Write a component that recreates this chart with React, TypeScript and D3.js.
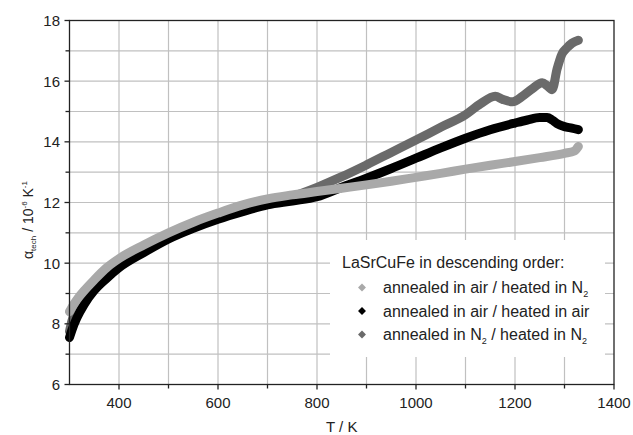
// ExpansionChart.tsx

import React, { useEffect, useRef } from "react";
import * as d3 from "d3";

// temperature (K) and alpha_tech (10^-6 K^-1)
const airN2T = [300, 305, 315, 330, 350, 375, 400, 450, 500, 550, 600, 650, 700, 750, 800, 850, 900, 950, 1000, 1050, 1100, 1150, 1200, 1250, 1300, 1320, 1328];
const airN2 = [8.4, 8.55, 8.8, 9.1, 9.45, 9.85, 10.15, 10.6, 11.0, 11.35, 11.65, 11.92, 12.12, 12.25, 12.36, 12.47, 12.58, 12.7, 12.83, 12.96, 13.1, 13.23, 13.35, 13.48, 13.62, 13.7, 13.85];

const airAirT = [300, 305, 315, 330, 350, 375, 400, 450, 500, 550, 600, 650, 700, 750, 800, 850, 900, 950, 1000, 1050, 1100, 1150, 1200, 1225, 1250, 1265, 1275, 1285, 1300, 1315, 1328];
const airAir = [7.55, 7.8, 8.2, 8.65, 9.1, 9.5, 9.85, 10.35, 10.8, 11.15, 11.45, 11.7, 11.92, 12.05, 12.19, 12.5, 12.8, 13.12, 13.46, 13.8, 14.12, 14.4, 14.62, 14.72, 14.8, 14.8, 14.72, 14.6, 14.5, 14.45, 14.4];

const n2N2T = [300, 305, 315, 330, 350, 375, 400, 450, 500, 550, 600, 650, 700, 750, 800, 850, 900, 950, 1000, 1050, 1100, 1130, 1160, 1175, 1195, 1215, 1235, 1255, 1265, 1275, 1285, 1295, 1305, 1315, 1328];
const n2N2 = [7.75, 8.1, 8.5, 8.9, 9.3, 9.65, 9.95, 10.45, 10.9, 11.25, 11.55, 11.8, 12.0, 12.2, 12.5, 12.85, 13.24, 13.65, 14.06, 14.48, 14.89, 15.25, 15.5, 15.4, 15.32, 15.5, 15.75, 15.95, 15.85, 15.72, 16.4, 16.9, 17.1, 17.25, 17.35];

const xTicks = [400, 600, 800, 1000, 1200, 1400];
const xGrid = [400, 500, 600, 700, 800, 900, 1000, 1100, 1200, 1300];
const yTicks = [6, 8, 10, 12, 14, 16, 18];
const yGrid = [7, 8, 9, 10, 11, 12, 13, 14, 15, 16, 17];

const legendTitle = "LaSrCuFe in descending order:";

const App = () => {
  const chartRef = useRef<SVGSVGElement>(null);

  useEffect(() => {
    const svg = d3.select(chartRef.current);
    svg.selectAll("*").remove();

    const left = 69.5;
    const right = 614;
    const top = 20.5;
    const bottom = 384.5;
    const font = "'Liberation Sans', Arial, sans-serif";

    const x = d3.scaleLinear().domain([300, 1400]).range([left, right]);
    const y = d3.scaleLinear().domain([6, 18]).range([bottom, top]);

    // grid
    svg
      .selectAll(".vg")
      .data(xGrid)
      .enter()
      .append("line")
      .attr("x1", (d) => x(d))
      .attr("x2", (d) => x(d))
      .attr("y1", top)
      .attr("y2", bottom)
      .attr("stroke", "#c0c0c0")
      .attr("stroke-width", 1.2);

    svg
      .selectAll(".hg")
      .data(yGrid)
      .enter()
      .append("line")
      .attr("x1", left)
      .attr("x2", right)
      .attr("y1", (d) => y(d))
      .attr("y2", (d) => y(d))
      .attr("stroke", "#c0c0c0")
      .attr("stroke-width", 1.2);

    // legend box covers the grid
    svg
      .append("rect")
      .attr("x", 330)
      .attr("y", 240)
      .attr("width", 275)
      .attr("height", 117)
      .attr("fill", "#fff");

    const series = [
      { t: n2N2T, v: n2N2, color: "#6a6a6a" },
      { t: airAirT, v: airAir, color: "#000000" },
      { t: airN2T, v: airN2, color: "#a9a9a9" },
    ];

    series.forEach((s) => {
      const gen = d3
        .line<[number, number]>()
        .x((d) => x(d[0]))
        .y((d) => y(d[1]))
        .curve(d3.curveMonotoneX);
      svg
        .append("path")
        .attr("d", gen(d3.zip(s.t, s.v) as [number, number][]))
        .attr("fill", "none")
        .attr("stroke", s.color)
        .attr("stroke-width", 9)
        .attr("stroke-linecap", "round")
        .attr("stroke-linejoin", "round");
    });

    // frame
    svg
      .append("rect")
      .attr("x", left)
      .attr("y", top)
      .attr("width", right - left)
      .attr("height", bottom - top)
      .attr("fill", "none")
      .attr("stroke", "#222")
      .attr("stroke-width", 1.3);

    // ticks
    svg
      .selectAll(".xt")
      .data(xGrid.concat([1400]))
      .enter()
      .append("line")
      .attr("x1", (d) => x(d))
      .attr("x2", (d) => x(d))
      .attr("y1", bottom)
      .attr("y2", (d) => bottom + (d % 200 === 0 ? 5 : 4))
      .attr("stroke", "#222")
      .attr("stroke-width", 1.3);

    svg
      .selectAll(".yt")
      .data(yGrid.concat([6, 18]))
      .enter()
      .append("line")
      .attr("x1", left)
      .attr("x2", (d) => left - (d % 2 === 0 ? 5 : 4))
      .attr("y1", (d) => y(d))
      .attr("y2", (d) => y(d))
      .attr("stroke", "#222")
      .attr("stroke-width", 1.3);

    // tick labels
    svg
      .selectAll(".xl")
      .data(xTicks)
      .enter()
      .append("text")
      .attr("x", (d) => x(d))
      .attr("y", 408)
      .attr("text-anchor", "middle")
      .attr("font-family", font)
      .attr("font-size", 15)
      .attr("fill", "#222")
      .text((d) => d);

    svg
      .selectAll(".yl")
      .data(yTicks)
      .enter()
      .append("text")
      .attr("x", 60)
      .attr("y", (d) => y(d) + 5.5)
      .attr("text-anchor", "end")
      .attr("font-family", font)
      .attr("font-size", 15)
      .attr("fill", "#222")
      .text((d) => d);

    // axis titles
    svg
      .append("text")
      .attr("x", (left + right) / 2)
      .attr("y", 432)
      .attr("text-anchor", "middle")
      .attr("font-family", font)
      .attr("font-size", 15)
      .attr("fill", "#222")
      .text("T / K");

    const yt = svg
      .append("text")
      .attr("transform", "translate(33,220) rotate(-90)")
      .attr("text-anchor", "middle")
      .attr("font-family", font)
      .attr("font-size", 14)
      .attr("fill", "#222");
    yt.append("tspan").text("\u03b1");
    yt.append("tspan").attr("font-size", 8).attr("dy", 3).text("tech");
    yt.append("tspan").attr("dy", -3).text(" / 10");
    yt.append("tspan").attr("font-size", 8).attr("dy", -6).text("-6");
    yt.append("tspan").attr("dy", 6).text(" K");
    yt.append("tspan").attr("font-size", 8).attr("dy", -6).text("-1");

    // legend
    svg
      .append("text")
      .attr("x", 342)
      .attr("y", 267.5)
      .attr("font-family", font)
      .attr("font-size", 16)
      .attr("fill", "#222")
      .text(legendTitle);

    const items = [
      { color: "#a9a9a9", parts: ["annealed in air / heated in N", "2", ""] },
      { color: "#000000", parts: ["annealed in air / heated in air", "", ""] },
      { color: "#6a6a6a", parts: ["annealed in N", "2", " / heated in N", "2"] },
    ];
    const rowY = [287.5, 311, 334.5];

    items.forEach((it, i) => {
      const cy = rowY[i];
      svg
        .append("path")
        .attr("d", d3.symbol(d3.symbolDiamond2, 40)())
        .attr("transform", `translate(362,${cy})`)
        .attr("fill", it.color);
      const t = svg
        .append("text")
        .attr("x", 383)
        .attr("y", cy + 5.5)
        .attr("font-family", font)
        .attr("font-size", 16)
        .attr("fill", "#222");
      it.parts.forEach((p, j) => {
        if (!p) return;
        if (j % 2 === 1) {
          t.append("tspan").attr("font-size", 9).attr("dy", 4).text(p);
        } else {
          t.append("tspan").attr("dy", j === 0 ? 0 : -4).text(p);
        }
      });
    });
  }, []);

  return (
    <svg
      ref={chartRef}
      width={633}
      height={435}
      style={{ position: "absolute", left: 0, top: 0, background: "#fff" }}
    ></svg>
  );
};

export default App;
